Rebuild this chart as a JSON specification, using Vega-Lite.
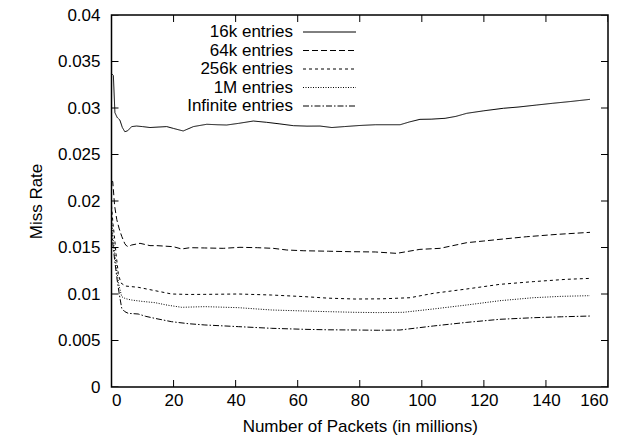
{
  "$schema": "https://vega.github.io/schema/vega-lite/v6.json",
  "autosize": "none",
  "width": 496.5,
  "height": 372,
  "padding": {"left": 111.5, "top": 15, "right": 18, "bottom": 55},
  "datasets": {
    "curves": [
      {"x": 0, "v": 0.0337, "s": "16k entries"},
      {"x": 0.6, "v": 0.0335, "s": "16k entries"},
      {"x": 1.1, "v": 0.0295, "s": "16k entries"},
      {"x": 1.8, "v": 0.029, "s": "16k entries"},
      {"x": 2.7, "v": 0.0287, "s": "16k entries"},
      {"x": 3.5, "v": 0.0279, "s": "16k entries"},
      {"x": 4.3, "v": 0.02745, "s": "16k entries"},
      {"x": 5.2, "v": 0.02755, "s": "16k entries"},
      {"x": 6.5, "v": 0.028, "s": "16k entries"},
      {"x": 8.1, "v": 0.02806, "s": "16k entries"},
      {"x": 10, "v": 0.028, "s": "16k entries"},
      {"x": 12.4, "v": 0.0279, "s": "16k entries"},
      {"x": 15, "v": 0.02795, "s": "16k entries"},
      {"x": 17.8, "v": 0.028, "s": "16k entries"},
      {"x": 20, "v": 0.0278, "s": "16k entries"},
      {"x": 23.1, "v": 0.02753, "s": "16k entries"},
      {"x": 26.4, "v": 0.028, "s": "16k entries"},
      {"x": 30.7, "v": 0.02825, "s": "16k entries"},
      {"x": 34, "v": 0.0282, "s": "16k entries"},
      {"x": 37.1, "v": 0.02817, "s": "16k entries"},
      {"x": 41, "v": 0.02835, "s": "16k entries"},
      {"x": 45.7, "v": 0.0286, "s": "16k entries"},
      {"x": 50, "v": 0.02846, "s": "16k entries"},
      {"x": 54, "v": 0.0283, "s": "16k entries"},
      {"x": 58.6, "v": 0.0281, "s": "16k entries"},
      {"x": 63, "v": 0.02805, "s": "16k entries"},
      {"x": 67.2, "v": 0.02806, "s": "16k entries"},
      {"x": 71, "v": 0.0279, "s": "16k entries"},
      {"x": 75, "v": 0.028, "s": "16k entries"},
      {"x": 80, "v": 0.02812, "s": "16k entries"},
      {"x": 85, "v": 0.0282, "s": "16k entries"},
      {"x": 89, "v": 0.0282, "s": "16k entries"},
      {"x": 93, "v": 0.0282, "s": "16k entries"},
      {"x": 96, "v": 0.0285, "s": "16k entries"},
      {"x": 99.4, "v": 0.02878, "s": "16k entries"},
      {"x": 103, "v": 0.0288, "s": "16k entries"},
      {"x": 107.5, "v": 0.02889, "s": "16k entries"},
      {"x": 111, "v": 0.0291, "s": "16k entries"},
      {"x": 114.5, "v": 0.02943, "s": "16k entries"},
      {"x": 120, "v": 0.0297, "s": "16k entries"},
      {"x": 126.3, "v": 0.02997, "s": "16k entries"},
      {"x": 131, "v": 0.0301, "s": "16k entries"},
      {"x": 137, "v": 0.03032, "s": "16k entries"},
      {"x": 142, "v": 0.0305, "s": "16k entries"},
      {"x": 148, "v": 0.0307, "s": "16k entries"},
      {"x": 154.2, "v": 0.03093, "s": "16k entries"},

      {"x": 0, "v": 0.0221, "s": "64k entries"},
      {"x": 0.4, "v": 0.0221, "s": "64k entries"},
      {"x": 1.0, "v": 0.0195, "s": "64k entries"},
      {"x": 1.7, "v": 0.018, "s": "64k entries"},
      {"x": 2.5, "v": 0.017, "s": "64k entries"},
      {"x": 3.3, "v": 0.0162, "s": "64k entries"},
      {"x": 4.3, "v": 0.0154, "s": "64k entries"},
      {"x": 4.9, "v": 0.01516, "s": "64k entries"},
      {"x": 5.4, "v": 0.01509, "s": "64k entries"},
      {"x": 6.5, "v": 0.01527, "s": "64k entries"},
      {"x": 9.2, "v": 0.01545, "s": "64k entries"},
      {"x": 12.4, "v": 0.0152, "s": "64k entries"},
      {"x": 14.6, "v": 0.0152, "s": "64k entries"},
      {"x": 19.9, "v": 0.01509, "s": "64k entries"},
      {"x": 22.6, "v": 0.01484, "s": "64k entries"},
      {"x": 25.3, "v": 0.01498, "s": "64k entries"},
      {"x": 30, "v": 0.01495, "s": "64k entries"},
      {"x": 36, "v": 0.01491, "s": "64k entries"},
      {"x": 41.4, "v": 0.01502, "s": "64k entries"},
      {"x": 47, "v": 0.01498, "s": "64k entries"},
      {"x": 52.1, "v": 0.01491, "s": "64k entries"},
      {"x": 56.5, "v": 0.01473, "s": "64k entries"},
      {"x": 62, "v": 0.01465, "s": "64k entries"},
      {"x": 70, "v": 0.0146, "s": "64k entries"},
      {"x": 76.9, "v": 0.01455, "s": "64k entries"},
      {"x": 85, "v": 0.01452, "s": "64k entries"},
      {"x": 91.9, "v": 0.01437, "s": "64k entries"},
      {"x": 95, "v": 0.01455, "s": "64k entries"},
      {"x": 99.4, "v": 0.0148, "s": "64k entries"},
      {"x": 105.9, "v": 0.01491, "s": "64k entries"},
      {"x": 110, "v": 0.0152, "s": "64k entries"},
      {"x": 114.5, "v": 0.01552, "s": "64k entries"},
      {"x": 120, "v": 0.0157, "s": "64k entries"},
      {"x": 125.2, "v": 0.01588, "s": "64k entries"},
      {"x": 133.8, "v": 0.01616, "s": "64k entries"},
      {"x": 143.5, "v": 0.01641, "s": "64k entries"},
      {"x": 154.2, "v": 0.01663, "s": "64k entries"},

      {"x": 0, "v": 0.0195, "s": "256k entries"},
      {"x": 0.5, "v": 0.0175, "s": "256k entries"},
      {"x": 1, "v": 0.016, "s": "256k entries"},
      {"x": 1.5, "v": 0.0142, "s": "256k entries"},
      {"x": 2.2, "v": 0.0122, "s": "256k entries"},
      {"x": 3, "v": 0.0112, "s": "256k entries"},
      {"x": 4.4, "v": 0.01086, "s": "256k entries"},
      {"x": 8.6, "v": 0.01072, "s": "256k entries"},
      {"x": 14, "v": 0.01036, "s": "256k entries"},
      {"x": 19.4, "v": 0.01, "s": "256k entries"},
      {"x": 25, "v": 0.00995, "s": "256k entries"},
      {"x": 30.1, "v": 0.00996, "s": "256k entries"},
      {"x": 40.9, "v": 0.01, "s": "256k entries"},
      {"x": 51.6, "v": 0.00989, "s": "256k entries"},
      {"x": 62.4, "v": 0.00971, "s": "256k entries"},
      {"x": 70, "v": 0.00955, "s": "256k entries"},
      {"x": 78.5, "v": 0.00946, "s": "256k entries"},
      {"x": 87, "v": 0.00948, "s": "256k entries"},
      {"x": 96.2, "v": 0.0096, "s": "256k entries"},
      {"x": 103.7, "v": 0.01007, "s": "256k entries"},
      {"x": 114.5, "v": 0.01054, "s": "256k entries"},
      {"x": 125.2, "v": 0.01104, "s": "256k entries"},
      {"x": 135.9, "v": 0.01133, "s": "256k entries"},
      {"x": 146.7, "v": 0.01158, "s": "256k entries"},
      {"x": 154.2, "v": 0.01168, "s": "256k entries"},

      {"x": 0, "v": 0.0182, "s": "1M entries"},
      {"x": 0.5, "v": 0.016, "s": "1M entries"},
      {"x": 1, "v": 0.0145, "s": "1M entries"},
      {"x": 1.6, "v": 0.0128, "s": "1M entries"},
      {"x": 2.3, "v": 0.0111, "s": "1M entries"},
      {"x": 3.3, "v": 0.00971, "s": "1M entries"},
      {"x": 4.5, "v": 0.0095, "s": "1M entries"},
      {"x": 6.5, "v": 0.00935, "s": "1M entries"},
      {"x": 10, "v": 0.0092, "s": "1M entries"},
      {"x": 14, "v": 0.00907, "s": "1M entries"},
      {"x": 18, "v": 0.0088, "s": "1M entries"},
      {"x": 22.6, "v": 0.00857, "s": "1M entries"},
      {"x": 30.1, "v": 0.00864, "s": "1M entries"},
      {"x": 40.9, "v": 0.00853, "s": "1M entries"},
      {"x": 51.6, "v": 0.00828, "s": "1M entries"},
      {"x": 62.4, "v": 0.00817, "s": "1M entries"},
      {"x": 70, "v": 0.0081, "s": "1M entries"},
      {"x": 78.5, "v": 0.00803, "s": "1M entries"},
      {"x": 86, "v": 0.008, "s": "1M entries"},
      {"x": 94, "v": 0.00803, "s": "1M entries"},
      {"x": 103.7, "v": 0.00839, "s": "1M entries"},
      {"x": 114.5, "v": 0.00882, "s": "1M entries"},
      {"x": 125.2, "v": 0.00928, "s": "1M entries"},
      {"x": 135.9, "v": 0.0096, "s": "1M entries"},
      {"x": 145, "v": 0.00975, "s": "1M entries"},
      {"x": 154.2, "v": 0.00982, "s": "1M entries"},

      {"x": 0, "v": 0.0168, "s": "Infinite entries"},
      {"x": 0.5, "v": 0.0152, "s": "Infinite entries"},
      {"x": 1, "v": 0.0137, "s": "Infinite entries"},
      {"x": 1.7, "v": 0.0118, "s": "Infinite entries"},
      {"x": 2.5, "v": 0.01, "s": "Infinite entries"},
      {"x": 3.3, "v": 0.00846, "s": "Infinite entries"},
      {"x": 4.3, "v": 0.0081, "s": "Infinite entries"},
      {"x": 5.4, "v": 0.00792, "s": "Infinite entries"},
      {"x": 8.6, "v": 0.00785, "s": "Infinite entries"},
      {"x": 11, "v": 0.0076, "s": "Infinite entries"},
      {"x": 14, "v": 0.00738, "s": "Infinite entries"},
      {"x": 19.4, "v": 0.00702, "s": "Infinite entries"},
      {"x": 25, "v": 0.0068, "s": "Infinite entries"},
      {"x": 30.1, "v": 0.00667, "s": "Infinite entries"},
      {"x": 40.9, "v": 0.00649, "s": "Infinite entries"},
      {"x": 51.6, "v": 0.00631, "s": "Infinite entries"},
      {"x": 62.4, "v": 0.0062, "s": "Infinite entries"},
      {"x": 70, "v": 0.00615, "s": "Infinite entries"},
      {"x": 78.5, "v": 0.00613, "s": "Infinite entries"},
      {"x": 86, "v": 0.0061, "s": "Infinite entries"},
      {"x": 93, "v": 0.00613, "s": "Infinite entries"},
      {"x": 103.7, "v": 0.00656, "s": "Infinite entries"},
      {"x": 114.5, "v": 0.00695, "s": "Infinite entries"},
      {"x": 125.2, "v": 0.00728, "s": "Infinite entries"},
      {"x": 135.9, "v": 0.00745, "s": "Infinite entries"},
      {"x": 145, "v": 0.00755, "s": "Infinite entries"},
      {"x": 154.2, "v": 0.00763, "s": "Infinite entries"}
    ],
    "xticks": [
      {"x": 0}, {"x": 20}, {"x": 40}, {"x": 60}, {"x": 80},
      {"x": 100}, {"x": 120}, {"x": 140}, {"x": 160}
    ],
    "yticks": [
      {"v": 0}, {"v": 0.005}, {"v": 0.01}, {"v": 0.015}, {"v": 0.02},
      {"v": 0.025}, {"v": 0.03}, {"v": 0.035}, {"v": 0.04}
    ]
  },
  "layer": [
    {
      "data": {"name": "curves"},
      "mark": {"type": "line", "stroke": "#000000", "strokeWidth": 1, "interpolate": "linear"},
      "encoding": {
        "x": {
          "field": "x", "type": "quantitative",
          "scale": {"domain": [0, 160], "nice": false, "zero": false},
          "axis": {
            "orient": "bottom",
            "values": [0, 20, 40, 60, 80, 100, 120, 140, 160],
            "title": "Number of Packets (in millions)",
            "labelPadding": 5,
            "titlePadding": 10
          }
        },
        "y": {
          "field": "v", "type": "quantitative",
          "scale": {"domain": [0, 0.04], "nice": false, "zero": false},
          "axis": {
            "orient": "left",
            "values": [0, 0.005, 0.01, 0.015, 0.02, 0.025, 0.03, 0.035, 0.04],
            "format": "~g",
            "title": "Miss Rate",
            "labelPadding": 11.5,
            "titlePadding": 12
          }
        },
        "strokeDash": {
          "field": "s", "type": "nominal",
          "scale": {
            "domain": ["16k entries", "64k entries", "256k entries", "1M entries", "Infinite entries"],
            "range": [[1, 0], [6, 3], [3, 3], [1, 1.5], [6, 2, 1.5, 2]]
          },
          "legend": {
            "title": null,
            "orient": "none",
            "legendX": 209.5,
            "legendY": 8.5,
            "padding": 0,
            "rowPadding": 0.5,
            "symbolType": "M-3.3125,0H3.3125",
            "symbolSize": 256,
            "symbolStrokeWidth": 1,
            "symbolStrokeColor": "#000000",
            "symbolFillColor": "transparent",
            "labelAlign": "right",
            "labelOffset": -45,
            "labelFont": "Liberation Sans",
            "labelFontSize": 17,
            "labelColor": "#000000",
            "labelLimit": 400
          }
        }
      }
    },
    {
      "data": {"name": "xticks"},
      "mark": {"type": "tick", "orient": "vertical", "size": 14, "thickness": 1, "color": "#000000", "opacity": 1, "clip": true},
      "encoding": {
        "x": {"field": "x", "type": "quantitative"},
        "y": {"datum": 0, "type": "quantitative"}
      }
    },
    {
      "data": {"name": "xticks"},
      "mark": {"type": "tick", "orient": "vertical", "size": 14, "thickness": 1, "color": "#000000", "opacity": 1, "clip": true},
      "encoding": {
        "x": {"field": "x", "type": "quantitative"},
        "y": {"datum": 0.04, "type": "quantitative"}
      }
    },
    {
      "data": {"name": "yticks"},
      "mark": {"type": "tick", "orient": "horizontal", "size": 14, "thickness": 1, "color": "#000000", "opacity": 1, "clip": true},
      "encoding": {
        "y": {"field": "v", "type": "quantitative"},
        "x": {"datum": 0, "type": "quantitative"}
      }
    },
    {
      "data": {"name": "yticks"},
      "mark": {"type": "tick", "orient": "horizontal", "size": 14, "thickness": 1, "color": "#000000", "opacity": 1, "clip": true},
      "encoding": {
        "y": {"field": "v", "type": "quantitative"},
        "x": {"datum": 160, "type": "quantitative"}
      }
    }
  ],
  "config": {
    "font": "Liberation Sans",
    "view": {"stroke": "#000000", "strokeWidth": 1.5},
    "axis": {
      "domain": false,
      "grid": false,
      "ticks": false,
      "labelFont": "Liberation Sans",
      "labelFontSize": 17,
      "labelColor": "#000000",
      "titleFont": "Liberation Sans",
      "titleFontSize": 17,
      "titleFontWeight": "normal",
      "titleColor": "#000000"
    }
  }
}
